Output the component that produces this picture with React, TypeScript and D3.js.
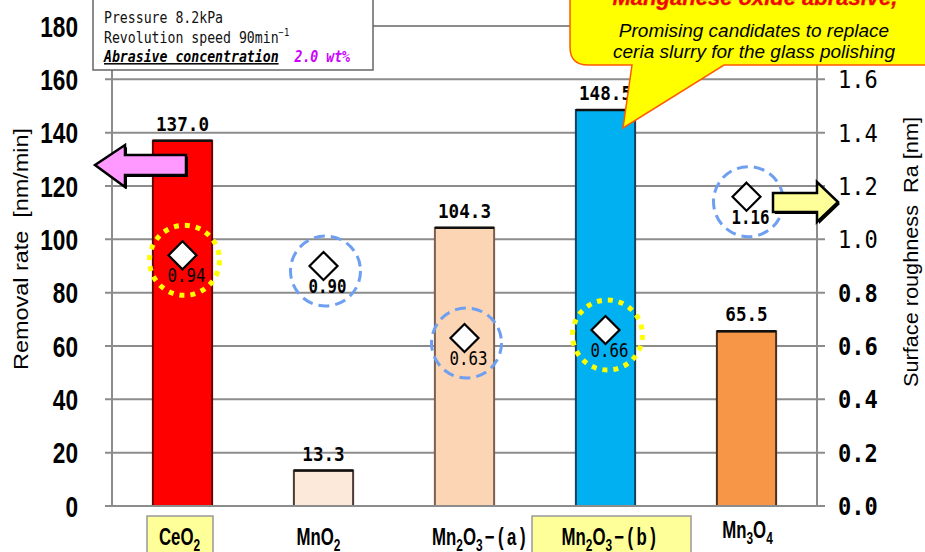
import React from "react";
import * as d3 from "d3";

const categories = ["CeO2", "MnO2", "Mn2O3-(a)", "Mn2O3-(b)", "Mn3O4"];
const categoryParts: [string, string][][] = [
  [["CeO", "n"], ["2", "s"]],
  [["MnO", "n"], ["2", "s"]],
  [["Mn", "n"], ["2", "s"], ["O", "n"], ["3", "s"], ["\u2212(a)", "w"]],
  [["Mn", "n"], ["2", "s"], ["O", "n"], ["3", "s"], ["\u2212(b)", "w"]],
  [["Mn", "n"], ["3", "s"], ["O", "n"], ["4", "s"]],
];
const removalRate = [137.0, 13.3, 104.3, 148.5, 65.5];
const roughness = [0.94, 0.9, 0.63, 0.66, 1.16];
const barFill = ["#ff0000", "#fde9d9", "#fcd5b4", "#00b0f0", "#f79646"];
const barStroke = ["#6a0000", "#4a3c34", "#7a6050", "#17405f", "#4a3020"];
const circleKind = ["dotted", "dashed", "dashed", "dotted", "dashed"];
const highlighted = [true, false, false, true, false];
const leftTicks = [0, 20, 40, 60, 80, 100, 120, 140, 160, 180];
const rightTicks = [0, 0.2, 0.4, 0.6, 0.8, 1.0, 1.2, 1.4, 1.6];
const leftTitle = "Removal rate  [nm/min]";
const rightTitle = "Surface roughness  Ra [nm]";
const conditionLines = ["Pressure 8.2kPa", "Revolution speed 90min"];
const concentrationLabel = "Abrasive concentration";
const concentrationValue = "2.0 wt%";
const calloutTitle = "Manganese oxide abrasive,";
const calloutLines = ["Promising candidates to replace", "ceria slurry for the glass polishing"];

// layout constants
const W = 925, H = 552;
const X0 = 112, X1 = 817, Y0 = 506, Y1 = 26;
const labelDx = [-3, -5, 16, 5, 1];
const labelY = [545, 545, 545, 545, 538];
const boxRect = [[147, 66], [532, 159], null, null, null];
const boldRough = [false, true, false, false, true];

export default function App() {
  const x = d3.scaleBand<string>().domain(categories).range([X0, X1]).paddingInner(0.58).paddingOuter(0.29);
  const yL = d3.scaleLinear().domain([0, 180]).range([Y0, Y1]);
  const yR = d3.scaleLinear().domain([0, 1.8]).range([Y0, Y1]);
  const bw = x.bandwidth();
  const cx = (i: number) => (x(categories[i]) as number) + bw / 2;

  // callout shape
  const cp = d3.path();
  const r = 18;
  cp.moveTo(570 + r, -30);
  cp.lineTo(960, -30);
  cp.lineTo(960, 65);
  cp.lineTo(724, 65);
  cp.lineTo(623, 128);
  cp.lineTo(632, 65);
  cp.lineTo(570 + r, 65);
  cp.quadraticCurveTo(570, 65, 570, 65 - r);
  cp.lineTo(570, -30);
  cp.closePath();

  const leftArrow = "M95,165 L125,145 L125,155 L186,155 L186,175 L125,175 L125,187 Z";
  const rightArrow = "M773,193 L817,193 L817,182 L838,202 L817,222 L817,212 L773,212 Z";

  const mono = "'DejaVu Sans Mono', monospace";
  const sans = "'Liberation Sans', Arial, sans-serif";

  return (
    <svg width={W} height={H} style={{ display: "block", position: "absolute", left: 0, top: 0 }}>
      <rect x={0} y={0} width={W} height={H} fill="#fff" />
      {/* gridlines */}
      {leftTicks.map((t) => (
        <line key={"g" + t} x1={105} x2={825} y1={yL(t)} y2={yL(t)} stroke="#8c8c8c" strokeWidth={2} />
      ))}
      <line x1={X0} x2={X0} y1={Y1} y2={Y0} stroke="#8c8c8c" strokeWidth={2} />
      <line x1={X1} x2={X1} y1={Y1 - 30} y2={Y0} stroke="#8c8c8c" strokeWidth={2} />

      {/* left tick labels */}
      {leftTicks.map((t) => (
        <text key={"lt" + t} transform={`translate(78,${yL(t) + 10.5}) scale(0.78,1)`} textAnchor="end"
          fontFamily={sans} fontWeight="bold" fontSize={29} fill="#000">{t}</text>
      ))}
      {/* right tick labels */}
      {rightTicks.map((t) => (
        <text key={"rt" + t} transform={`translate(838,${yR(t) + 9}) scale(0.92,1)`}
          fontFamily={mono} fontWeight={t < 1 ? "bold" : "normal"} fontSize={24} fill="#000">{t.toFixed(1)}</text>
      ))}

      {/* axis titles */}
      <text transform="translate(28,249) rotate(-90)" textAnchor="middle" fontFamily={sans} fontSize={20}
        textLength={242} lengthAdjust="spacingAndGlyphs" style={{ whiteSpace: "pre" }}>{leftTitle}</text>
      <text transform="translate(918,252) rotate(-90)" textAnchor="middle" fontFamily={sans} fontSize={20}
        textLength={270} lengthAdjust="spacingAndGlyphs" style={{ whiteSpace: "pre" }}>{rightTitle}</text>

      {/* bars */}
      {removalRate.map((v, i) => (
        <g key={"b" + i}>
          <rect x={x(categories[i])} y={yL(v)} width={bw} height={Y0 - yL(v)} fill={barFill[i]}
            stroke={barStroke[i]} strokeWidth={2} />
          <line x1={x(categories[i])} x2={(x(categories[i]) as number) + bw} y1={yL(v)} y2={yL(v)} stroke="#111" strokeWidth={2.5} />
          <text transform={`translate(${cx(i)},${yL(v) - 10}) scale(0.88,1)`} textAnchor="middle"
            fontFamily={mono} fontWeight="bold" fontSize={20} fill="#000">{v.toFixed(1)}</text>
        </g>
      ))}
      <line x1={105} x2={822} y1={Y0} y2={Y0} stroke="#8c8c8c" strokeWidth={2} />

      {/* roughness markers */}
      {roughness.map((v, i) => {
        const px = cx(i), py = yR(v);
        const s = 14;
        return (
          <g key={"m" + i}>
            <circle cx={px + 2} cy={py + 5} r={35} fill="none"
              stroke={circleKind[i] === "dotted" ? "#ffff00" : "#6e9ff0"}
              strokeWidth={circleKind[i] === "dotted" ? 5 : 3}
              strokeDasharray={circleKind[i] === "dotted" ? "5 6" : "11 6"} />
            <path d={`M${px},${py - s} L${px + s},${py} L${px},${py + s} L${px - s},${py} Z`} fill="#fff" stroke="#000" strokeWidth={2.2} />
            <text transform={`translate(${px + 4},${py + 27}) scale(0.83,1)`} textAnchor="middle"
              fontFamily={mono} fontWeight={boldRough[i] ? "bold" : "normal"} fontSize={19} fill="#000">{v.toFixed(2)}</text>
          </g>
        );
      })}

      {/* category labels */}
      {categories.map((c, i) => {
        const box = boxRect[i];
        const parts = categoryParts[i];
        return (
          <g key={"c" + i}>
            {box && (
              <rect x={box[0]} y={516} width={box[1]} height={50} fill="#ffff99" stroke="#999" strokeWidth={1.5} />
            )}
            <text transform={`translate(${cx(i) + labelDx[i]},${labelY[i]}) scale(0.7,1)`} textAnchor="middle"
              fontFamily={sans} fontWeight="bold" fontSize={24} fill="#000">
              {parts.map(([t, kind], k) => (
                <tspan key={k} fontSize={kind === "s" ? 17 : 24}
                  letterSpacing={kind === "w" ? 5 : 0}
                  dx={kind === "w" ? 3 : 0}
                  dy={kind === "s" ? 6 : (k > 0 && parts[k - 1][1] === "s" ? -6 : 0)}>{t}</tspan>
              ))}
            </text>
          </g>
        );
      })}

      {/* arrows */}
      <path d={leftArrow} transform="translate(2,2)" fill="#000" />
      <path d={leftArrow} fill="#ff99ff" stroke="#000" strokeWidth={2.5} strokeLinejoin="miter" />
      <path d={rightArrow} transform="translate(2,2)" fill="#000" />
      <path d={rightArrow} fill="#ffff99" stroke="#000" strokeWidth={2.5} strokeLinejoin="miter" />

      {/* conditions box */}
      <rect x={93} y={-2} width={280} height={72} fill="#fff" stroke="#666" strokeWidth={1.5} />
      <g transform="translate(104,0) scale(0.88,1)">
        <text x={0} y={23} fontFamily={mono} fontSize={15} fill="#111">{conditionLines[0]}</text>
        <text x={0} y={43} fontFamily={mono} fontSize={15} fill="#111">
          {conditionLines[1]}<tspan fontSize={10} dy={-7}>{"\u22121"}</tspan>
        </text>
        <text x={0} y={62} fontFamily={mono} fontSize={15} fontWeight="bold" fontStyle="italic" fill="#000"
          style={{ whiteSpace: "pre" }}>
          <tspan style={{ textDecoration: "underline" }}>{concentrationLabel}</tspan>
          <tspan>{"  "}</tspan>
          <tspan fill="#cc00ff">{concentrationValue}</tspan>
        </text>
      </g>

      {/* callout */}
      <path d={cp.toString()} fill="#ffff00" stroke="#ff5a00" strokeWidth={1.5} />
      <text x={755} y={5} textAnchor="middle" fontFamily={sans} fontWeight="bold" fontStyle="italic" fontSize={22}
        fill="#ff0000" stroke="#c04000" strokeWidth={0.4}>{calloutTitle}</text>
      <text x={754} y={37} textAnchor="middle" fontFamily={sans} fontStyle="italic" fontSize={19} fill="#000">{calloutLines[0]}</text>
      <text x={754} y={58} textAnchor="middle" fontFamily={sans} fontStyle="italic" fontSize={19} fill="#000">{calloutLines[1]}</text>
    </svg>
  );
}
